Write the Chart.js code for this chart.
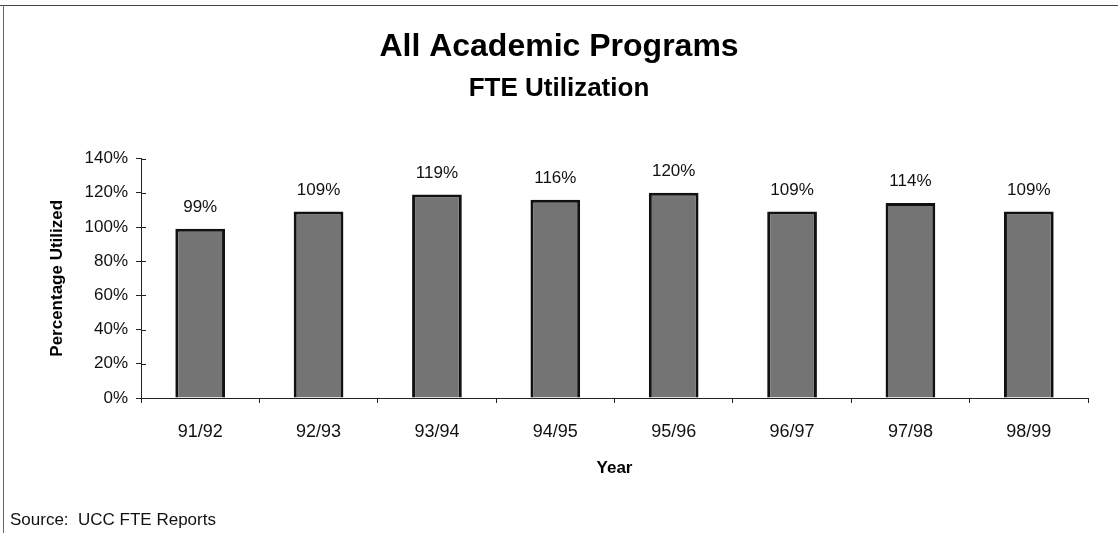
<!DOCTYPE html>
<html>
<head>
<meta charset="utf-8">
<script src="https://cdn.jsdelivr.net/npm/chart.js@4.4.1/dist/chart.umd.min.js"></script>
<style>
  body { margin: 0; background: #fff; }
  #wrap { position: relative; width: 1118px; height: 533px; overflow: hidden; }
  #topLine { position: absolute; left: 0; top: 5px; width: 1118px; height: 1px; background: #444; }
  #leftLine { position: absolute; left: 3px; top: 5px; width: 1px; height: 528px; background: #666; }
  #source { position: absolute; left: 10px; top: 510px; font: 17px "Liberation Sans", Arial, sans-serif; color: #111; }
</style>
</head>
<body>
<div id="wrap">
  <canvas id="myChart" width="1118" height="533"></canvas>
  <div id="topLine"></div>
  <div id="leftLine"></div>
  <div id="source">Source:&nbsp; UCC FTE Reports</div>
</div>
<script>
const years = ['91/92', '92/93', '93/94', '94/95', '95/96', '96/97', '97/98', '98/99'];
const utilization = [99, 109, 119, 116, 120, 109, 114, 109];
const yTicks = [0, 20, 40, 60, 80, 100, 120, 140];

const fontFamily = '"Liberation Sans", Arial, sans-serif';

// value labels above each bar
const barLabels = {
  id: 'barLabels',
  afterDatasetsDraw(chart) {
    const ctx = chart.ctx;
    const meta = chart.getDatasetMeta(0);
    ctx.save();
    ctx.font = '17px ' + fontFamily;
    ctx.fillStyle = '#111';
    ctx.textAlign = 'center';
    ctx.textBaseline = 'alphabetic';
    meta.data.forEach((bar, i) => {
      ctx.fillText(utilization[i] + '%', bar.x, bar.y - 17);
    });
    ctx.restore();
  }
};

// tick marks that cross the y axis
const crossTicks = {
  id: 'crossTicks',
  afterDraw(chart) {
    const ctx = chart.ctx;
    const y = chart.scales.y;
    ctx.save();
    ctx.strokeStyle = '#222';
    ctx.lineWidth = 1;
    ctx.beginPath();
    y.ticks.forEach((t, i) => {
      const py = Math.round(y.getPixelForTick(i)) + 0.5;
      ctx.moveTo(y.right, py);
      ctx.lineTo(y.right + 5, py);
    });
    ctx.stroke();
    ctx.restore();
  }
};

const ctx = document.getElementById('myChart');
new Chart(ctx, {
  type: 'bar',
  data: {
    labels: years,
    datasets: [{
      label: 'Percentage Utilized',
      data: utilization,
      backgroundColor: '#747474',
      borderColor: '#111',
      borderWidth: 3,
      categoryPercentage: 1,
      barPercentage: 0.42
    }]
  },
  options: {
    responsive: false,
    animation: false,
    layout: { padding: { left: 0, right: 0, top: 0, bottom: 50 } },
    plugins: {
      legend: { display: false },
      tooltip: { enabled: false },
      title: {
        display: true,
        text: 'All Academic Programs',
        color: '#000',
        font: { family: fontFamily, size: 32, weight: 'bold' },
        padding: { top: 28, bottom: 7 }
      },
      subtitle: {
        display: true,
        text: 'FTE Utilization',
        color: '#000',
        font: { family: fontFamily, size: 26, weight: 'bold' },
        padding: { top: 0, bottom: 54 }
      }
    },
    scales: {
      x: {
        grid: { drawOnChartArea: false, offset: true, tickLength: 5, color: '#222' },
        border: { color: '#222', width: 1 },
        ticks: { color: '#111', font: { family: fontFamily, size: 18 }, padding: 18 },
        title: {
          display: true,
          text: 'Year',
          color: '#000',
          font: { family: fontFamily, size: 17, weight: 'bold' },
          padding: { top: 4, bottom: 4 }
        },
        afterFit(scale) { scale.height = 85; }
      },
      y: {
        min: 0,
        max: 140,
        afterBuildTicks(scale) { scale.ticks = yTicks.map(v => ({ value: v })); },
        grid: { drawOnChartArea: false, tickLength: 5, color: '#222' },
        border: { color: '#222', width: 1 },
        ticks: {
          color: '#111',
          font: { family: fontFamily, size: 17 },
          padding: 8,
          callback: v => v + '%'
        },
        title: {
          display: true,
          text: 'Percentage Utilized',
          color: '#000',
          font: { family: fontFamily, size: 17, weight: 'bold' },
          padding: { top: 47, bottom: 0 }
        },
        afterFit(scale) { scale.width = 141; }
      },
      // empty right-hand spacer so the title stays centred on the page
      spacer: {
        type: 'linear',
        position: 'right',
        display: true,
        grid: { display: false },
        border: { display: false },
        ticks: { display: false },
        afterFit(scale) { scale.width = 30; }
      }
    }
  },
  plugins: [barLabels, crossTicks]
});
</script>
</body>
</html>
